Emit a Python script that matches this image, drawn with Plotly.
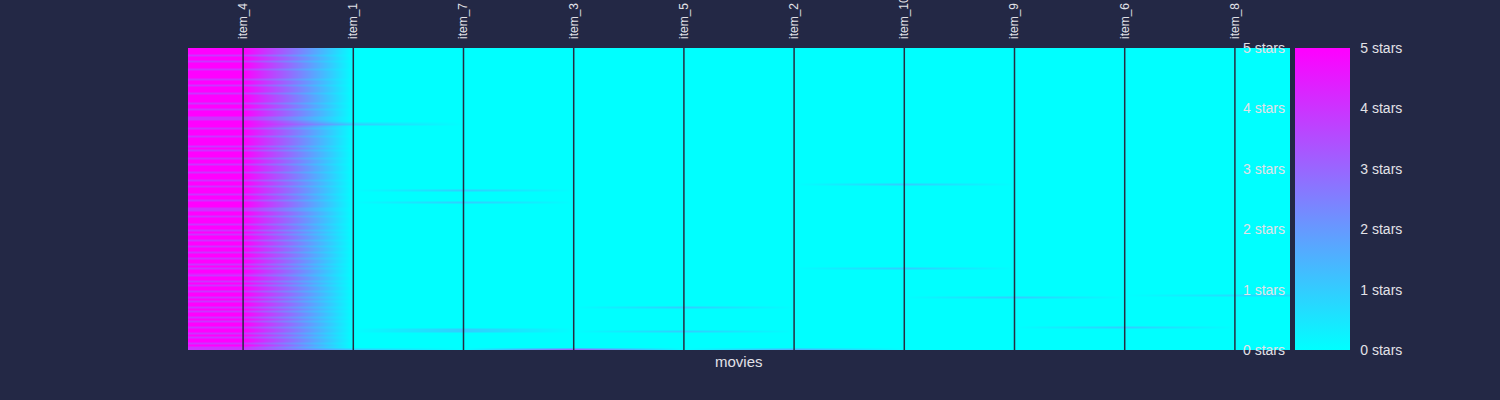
import plotly.graph_objects as go

# ---- data ----
movies = ["item_4", "item_1", "item_7", "item_3", "item_5",
          "item_2", "item_10", "item_9", "item_6", "item_8"]

# ratings of item_4 for each user row (top to bottom)
item_4_ratings = [
    5, 5, 5, 4, 5, 5, 4, 5, 5, 5, 4, 5, 5, 5, 5, 4, 5, 5, 4, 5,
    5, 5, 4, 5, 5, 5, 5, 4, 5, 5, 4, 5, 5, 5, 4, 4, 5, 5, 5, 4,
    5, 5, 5, 4, 5, 5, 5, 5, 4, 5, 4, 5, 5, 5, 4, 5, 5, 4, 5, 5,
    5, 4, 5, 5, 5, 4, 5, 5, 4, 5, 5, 5, 4, 5, 5, 4, 5, 5, 5, 4,
    4, 5, 5, 4, 5, 5, 5, 4, 5, 5, 4, 5, 4, 5, 5, 4, 5, 5, 4, 5,
    5, 4, 5, 5, 4, 5, 5, 4, 5, 4, 5, 5, 4, 5, 5, 4, 5, 4, 5, 5,
    4, 5, 5, 4, 5, 4, 5, 5, 4, 5, 4, 5, 5, 4, 5, 4, 5, 5, 4, 5,
    5, 4, 5, 4, 5, 5, 4, 5, 4, 4,
]

# sparse ratings for the other movies: (row, movie, stars)
sparse_rows = [37, 149, 70, 76, 139, 140, 149, 128, 140, 149, 67, 109, 123, 138, 122]
sparse_movies = ["item_1", "item_1", "item_7", "item_7", "item_7", "item_7",
                 "item_3", "item_5", "item_5", "item_2", "item_10", "item_10",
                 "item_9", "item_6", "item_8"]
sparse_stars = [1, 1, 1, 1, 1, 1, 3, 1, 1, 1.5, 1, 1, 1, 1, 0.7]

star_ticks = [0, 1, 2, 3, 4, 5]
star_labels = ["0 stars", "1 stars", "2 stars", "3 stars", "4 stars", "5 stars"]

# ---- build matrix ----
n_users = len(item_4_ratings)
users = list(range(n_users))
z = [[0.0] * len(movies) for _ in users]
for r, v in enumerate(item_4_ratings):
    z[r][movies.index("item_4")] = v
for r, m, v in zip(sparse_rows, sparse_movies, sparse_stars):
    z[r][movies.index(m)] = v

BG = "rgb(35,40,69)"
TXT = "rgb(226,226,232)"
FONT = "Arial"

fig = go.Figure()
fig.add_trace(go.Heatmap(
    z=z, x=movies, y=users,
    zmin=0, zmax=5, zsmooth="best",
    colorscale=[[0, "#00ffff"], [1, "#ff00ff"]],
    colorbar=dict(
        x=1.0, xanchor="left", xpad=5, thickness=55, len=1, y=0.5, ypad=0,
        outlinewidth=0, tickvals=star_ticks, ticktext=star_labels,
        tickfont=dict(size=14, color=TXT, family=FONT),
        ticks="outside", ticklen=8, tickcolor="rgba(0,0,0,0)",
    ),
    hoverinfo="skip",
))
# carrier trace for the right-hand star axis
fig.add_trace(go.Scatter(
    x=[movies[0]], y=[0], yaxis="y2", mode="markers",
    marker=dict(opacity=0), showlegend=False, hoverinfo="skip",
))

for m in movies:
    fig.add_shape(type="line", xref="x", yref="paper", x0=m, x1=m, y0=0, y1=1,
                  line=dict(color="rgb(38,44,66)", width=1.5), layer="above")

for v, lab in zip(star_ticks, star_labels):
    fig.add_annotation(text=lab, x=1, xref="paper", y=v, yref="y2",
                       xanchor="right", yanchor="middle", xshift=-3,
                       showarrow=False,
                       font=dict(size=14, color=TXT, family=FONT))

fig.add_annotation(text="movies", x=0.5, y=0, xref="paper", yref="paper",
                   xanchor="center", yanchor="top", yshift=-1, showarrow=False,
                   font=dict(size=15, color=TXT, family=FONT))

fig.update_layout(
    width=1500, height=400,
    margin=dict(l=188, r=210, t=48, b=50),
    paper_bgcolor=BG, plot_bgcolor=BG,
    font=dict(family=FONT, color=TXT),
    showlegend=False,
    xaxis=dict(side="top", tickangle=-90, showgrid=False, zeroline=False,
               tickfont=dict(size=12, color=TXT, family=FONT), ticks="",
               showline=False, range=[-0.5, len(movies) - 0.5],
               automargin=False, ticklabelstandoff=8),
    yaxis=dict(autorange="reversed", showticklabels=False, showgrid=False,
               zeroline=False, ticks="", showline=False, automargin=False),
    yaxis2=dict(overlaying="y", side="right", range=[0, 5],
                showticklabels=False, showgrid=False, zeroline=False,
                showline=False, ticks="", automargin=False),
)

fig.write_html("out.html", config={"displayModeBar": False},
               post_script="document.body.style.margin='0';document.body.style.background='" + BG + "';")
